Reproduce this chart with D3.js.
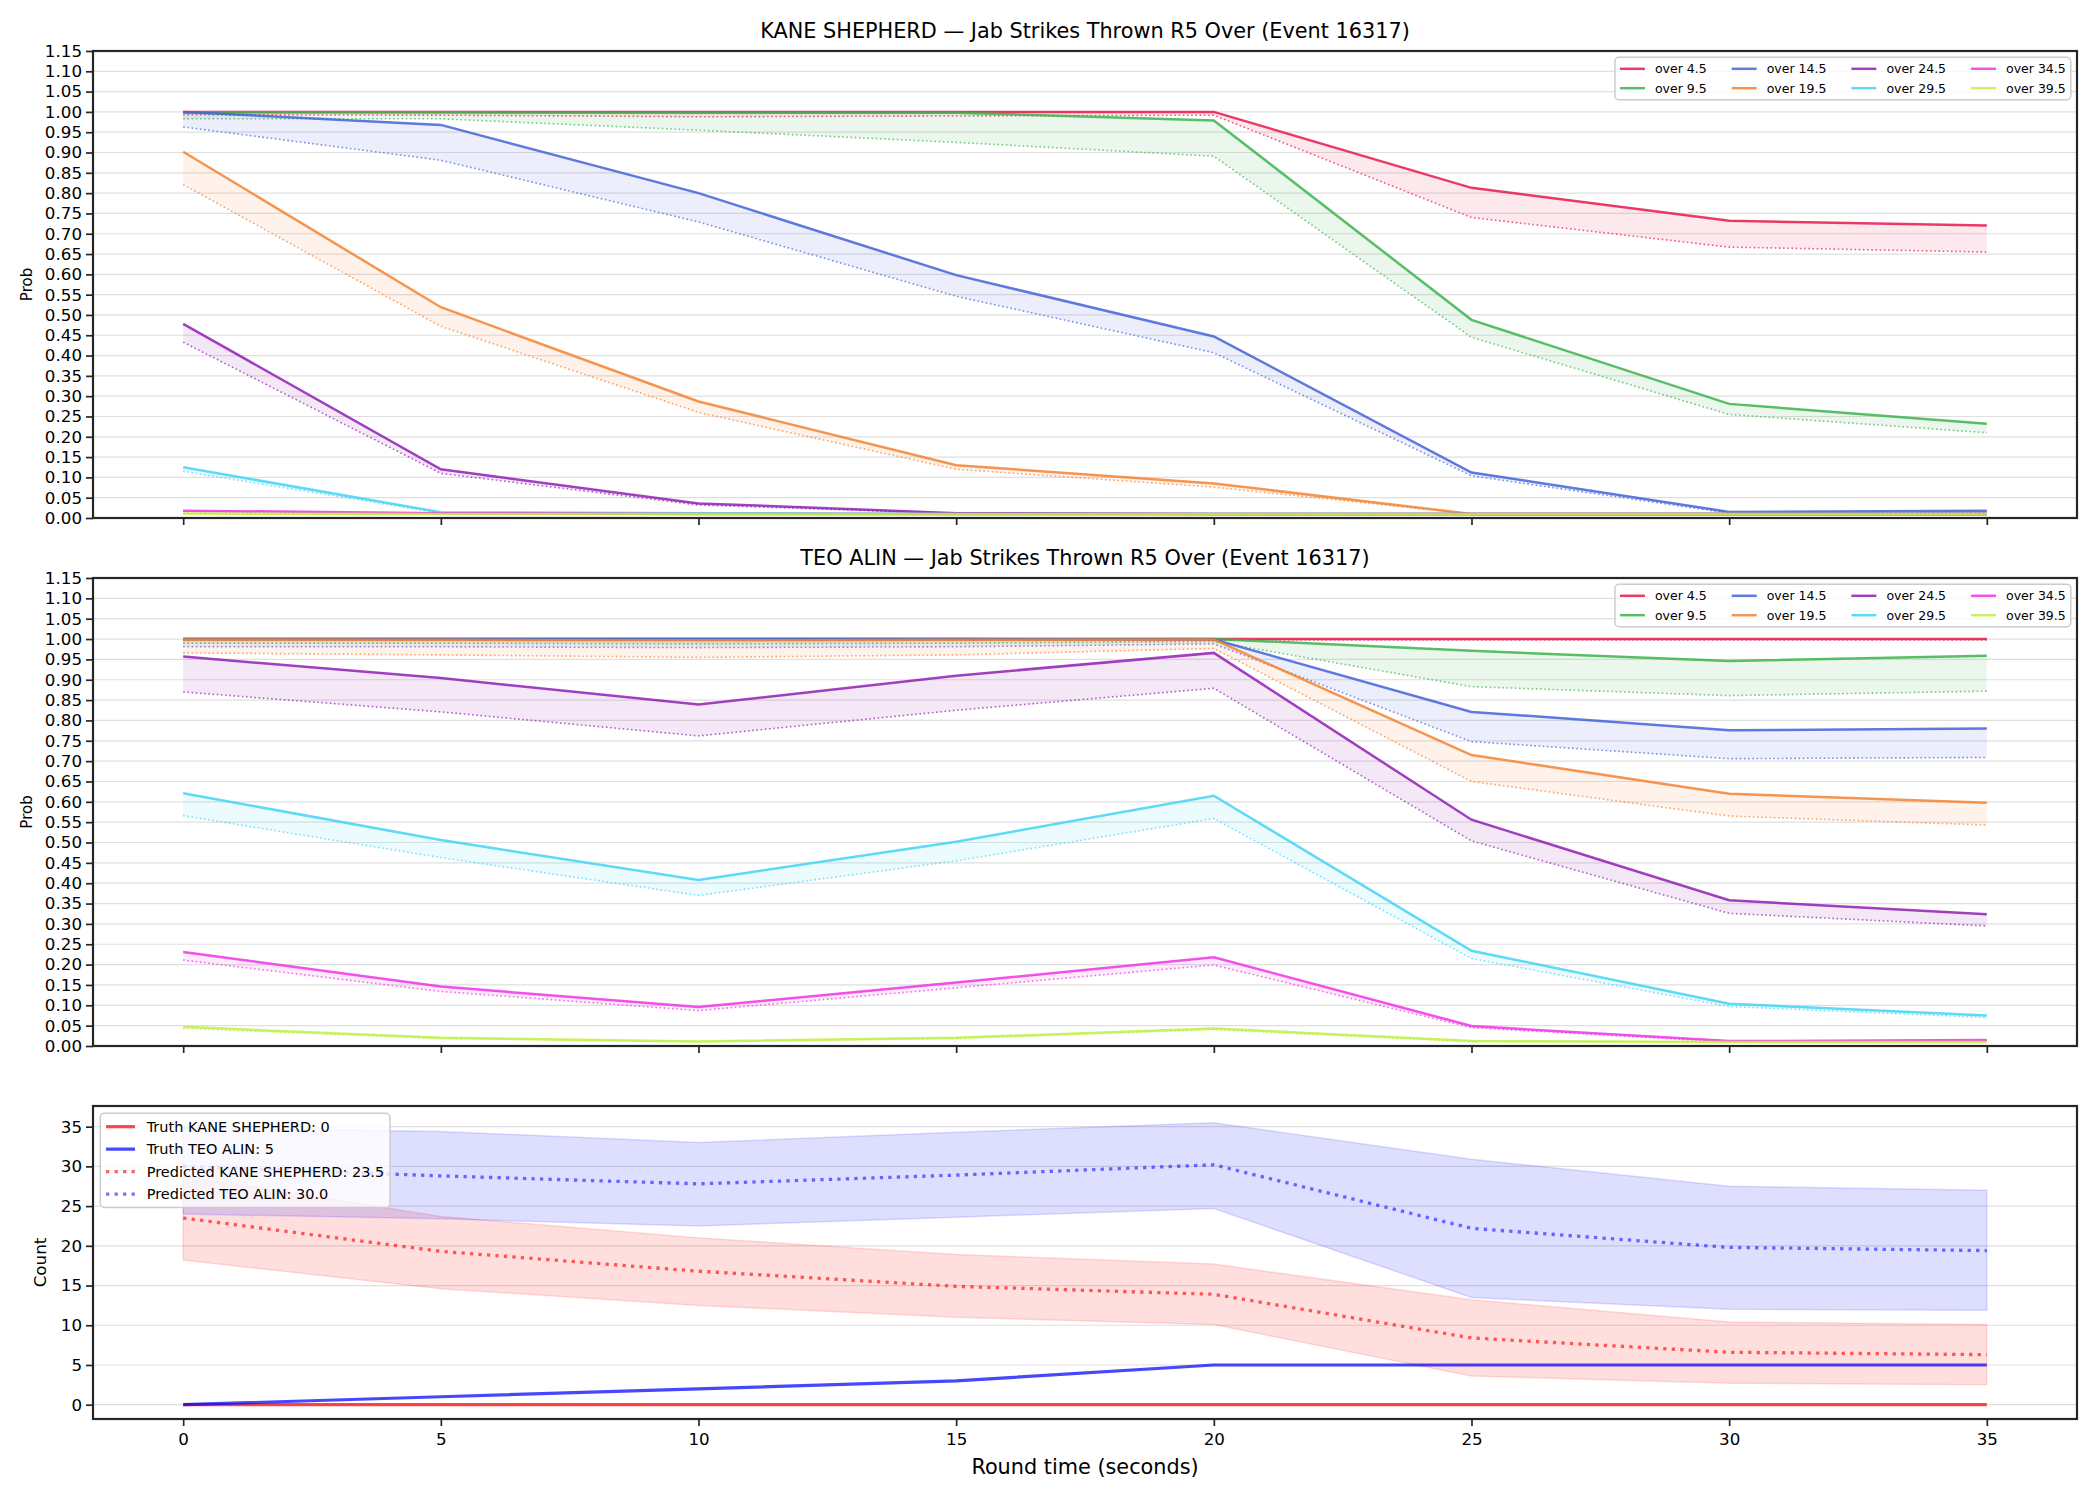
<!DOCTYPE html>
<html>
<head>
<meta charset="utf-8">
<script src="https://cdn.jsdelivr.net/npm/d3@7"></script>
<style>
  body { margin: 0; background: #fff; }
  svg { display: block; }
  text { font-family: "DejaVu Sans", sans-serif; fill: #000; }
</style>
</head>
<body>
<svg id="chart" width="2100" height="1500"></svg>
<script>
// round time in seconds
const rounds = [0, 5, 10, 15, 20, 25, 30, 35];

const lineNames = ["over 4.5", "over 9.5", "over 14.5", "over 19.5", "over 24.5", "over 29.5", "over 34.5", "over 39.5"];
const lineColors = ["#e6194b", "#3cb44b", "#4363d8", "#f58231", "#911eb4", "#42d4f4", "#f032e6", "#bfef45"];

const probTicks = d3.range(24).map(i => +(i * 0.05).toFixed(2));
const countTicks = [0, 5, 10, 15, 20, 25, 30, 35];

// KANE SHEPHERD: live prob (solid) and pre-round prob (dotted), one row per line
const kaneLive = [
  [1.0, 1.0, 1.0, 1.0, 1.0, 0.813, 0.732, 0.72],
  [0.999, 0.999, 0.998, 0.998, 0.979, 0.488, 0.281, 0.232],
  [1.0, 0.968, 0.80, 0.598, 0.447, 0.112, 0.015, 0.018],
  [0.902, 0.519, 0.287, 0.13, 0.085, 0.01, 0.01, 0.01],
  [0.478, 0.12, 0.036, 0.012, 0.01, 0.01, 0.01, 0.01],
  [0.125, 0.014, 0.012, 0.01, 0.01, 0.01, 0.01, 0.01],
  [0.018, 0.012, 0.01, 0.01, 0.01, 0.01, 0.01, 0.01],
  [0.011, 0.01, 0.01, 0.01, 0.01, 0.01, 0.01, 0.01]
];
const kanePrior = [
  [0.993, 0.992, 0.988, 0.99, 0.992, 0.74, 0.667, 0.655],
  [0.983, 0.983, 0.955, 0.925, 0.891, 0.445, 0.255, 0.21],
  [0.963, 0.881, 0.729, 0.546, 0.407, 0.104, 0.012, 0.013],
  [0.821, 0.472, 0.26, 0.12, 0.076, 0.01, 0.01, 0.01],
  [0.433, 0.11, 0.032, 0.011, 0.01, 0.01, 0.01, 0.01],
  [0.115, 0.012, 0.011, 0.01, 0.01, 0.01, 0.01, 0.01],
  [0.016, 0.011, 0.01, 0.01, 0.01, 0.01, 0.01, 0.01],
  [0.01, 0.01, 0.01, 0.01, 0.01, 0.01, 0.01, 0.01]
];

// TEO ALIN
const teoLive = [
  [1.0, 1.0, 1.0, 1.0, 1.0, 1.0, 1.0, 1.0],
  [1.0, 1.0, 1.0, 1.0, 1.0, 0.971, 0.946, 0.959],
  [1.0, 1.0, 1.0, 1.0, 0.999, 0.821, 0.776, 0.78],
  [0.999, 0.998, 0.997, 0.998, 0.999, 0.715, 0.62, 0.598],
  [0.957, 0.904, 0.839, 0.91, 0.966, 0.556, 0.358, 0.324],
  [0.621, 0.506, 0.408, 0.502, 0.615, 0.234, 0.104, 0.075],
  [0.231, 0.146, 0.096, 0.156, 0.218, 0.049, 0.012, 0.015],
  [0.047, 0.02, 0.011, 0.02, 0.043, 0.012, 0.01, 0.01]
];
const teoPrior = [
  [0.997, 0.997, 0.997, 0.997, 0.998, 0.998, 0.998, 0.998],
  [0.99, 0.99, 0.988, 0.99, 0.994, 0.883, 0.861, 0.872],
  [0.981, 0.981, 0.979, 0.981, 0.988, 0.748, 0.706, 0.709],
  [0.966, 0.961, 0.955, 0.961, 0.977, 0.65, 0.565, 0.543],
  [0.87, 0.821, 0.762, 0.825, 0.879, 0.504, 0.326, 0.295],
  [0.566, 0.463, 0.37, 0.455, 0.559, 0.215, 0.097, 0.07],
  [0.211, 0.134, 0.087, 0.143, 0.199, 0.045, 0.01, 0.012],
  [0.043, 0.018, 0.01, 0.018, 0.04, 0.01, 0.01, 0.01]
];

// counts panel
const truthKane = [0, 0, 0, 0, 0, 0, 0, 0];
const truthTeo = [0, 1, 2, 3, 5, 5, 5, 5];
const predKane = [23.5, 19.3, 16.8, 14.9, 13.9, 8.4, 6.6, 6.3];
const predKaneLo = [18.2, 14.6, 12.5, 11.0, 10.1, 3.6, 2.7, 2.5];
const predKaneHi = [28.8, 23.7, 21.0, 18.9, 17.7, 13.2, 10.4, 10.1];
const predTeo = [30.0, 28.8, 27.8, 28.9, 30.2, 22.2, 19.8, 19.4];
const predTeoLo = [24.0, 23.4, 22.5, 23.6, 24.7, 13.5, 12.0, 11.9];
const predTeoHi = [34.9, 34.4, 33.0, 34.3, 35.5, 30.9, 27.5, 27.0];

const svg = d3.select("#chart");
const axLeft = 93, axRight = 2077;
const tickFs = 16.7, titleFs = 20.8;
const spineColor = "#262626";

const x = d3.scaleLinear().domain([-1.75, 36.75]).range([axLeft, axRight]);

/*matplotlib style legend, columns filled top to bottom*/
function drawLegend(g, entries, box, opts) {
  const fs = opts.fs, ncol = opts.ncol;
  const nrows = Math.ceil(entries.length / ncol);
  const pad = 0.4 * fs, hLen = 2 * fs, hPad = 0.8 * fs, colSp = 2 * fs;
  const lg = g.append("g");
  const frame = lg.append("rect")
    .attr("fill", "#fff").attr("fill-opacity", 0.8)
    .attr("stroke", "#cccccc").attr("stroke-width", 1.5).attr("rx", 4);
  const texts = entries.map(e => lg.append("text").attr("font-size", fs).attr("dominant-baseline", "central").text(e.label));
  const widths = texts.map(t => t.node().getComputedTextLength());
  const colW = d3.range(ncol).map(c => d3.max(widths.filter((w, k) => Math.floor(k / nrows) === c)) || 0);
  const colX = [];
  let acc = pad;
  colW.forEach(w => { colX.push(acc); acc += hLen + hPad + w + colSp; });
  const width = acc - colSp + pad;
  const rowH = 1.05 * fs, rowGap = 0.5 * fs;
  const height = 2 * pad + nrows * rowH + (nrows - 1) * rowGap;
  const x0 = opts.anchor === "ne" ? box.right - 0.5 * fs - width : box.left + 0.5 * fs;
  const y0 = box.top + 0.5 * fs;
  frame.attr("x", x0).attr("y", y0).attr("width", width).attr("height", height);
  entries.forEach((e, k) => {
    const c = Math.floor(k / nrows), r = k % nrows;
    const cy = y0 + pad + r * (rowH + rowGap) + rowH / 2;
    const hx = x0 + colX[c];
    lg.append("line")
      .attr("x1", hx).attr("x2", hx + hLen).attr("y1", cy).attr("y2", cy)
      .attr("stroke", e.color).attr("stroke-width", e.width)
      .attr("stroke-opacity", e.opacity)
      .attr("stroke-dasharray", e.dash || null);
    texts[k].attr("x", hx + hLen + hPad).attr("y", cy);
  });
}

function drawFrame(box, y, yTicks, fmt, xLabels) {
  const g = svg.append("g");
  // horizontal grid
  g.append("g").selectAll("line").data(yTicks).join("line")
    .attr("x1", box.left).attr("x2", box.right)
    .attr("y1", d => y(d)).attr("y2", d => y(d))
    .attr("stroke", "#b0b0b0").attr("stroke-opacity", 0.4).attr("stroke-width", 1.2);
  return g;
}

function drawAxes(g, box, y, yTicks, fmt, xLabels) {
  g.append("rect")
    .attr("x", box.left).attr("y", box.top)
    .attr("width", box.right - box.left).attr("height", box.bottom - box.top)
    .attr("fill", "none").attr("stroke", spineColor).attr("stroke-width", 2.2);

  const yAxis = g.append("g")
    .attr("transform", `translate(${box.left},0)`)
    .call(d3.axisLeft(y).tickValues(yTicks).tickFormat(fmt).tickSize(7).tickPadding(4));
  const xAxis = g.append("g")
    .attr("transform", `translate(0,${box.bottom})`)
    .call(d3.axisBottom(x).tickValues(rounds).tickFormat(xLabels ? d3.format("d") : "").tickSize(7).tickPadding(7));
  [yAxis, xAxis].forEach(a => {
    a.select(".domain").remove();
    a.attr("font-size", tickFs).attr("font-family", "DejaVu Sans, sans-serif");
    a.selectAll(".tick line").attr("stroke", spineColor).attr("stroke-width", 1.7);
    a.selectAll(".tick text").attr("fill", "#000");
  });
}

function drawProbPanel(box, title, live, prior, clipId) {
  const y = d3.scaleLinear().domain([0, 1.15]).range([box.bottom, box.top]);
  const g = drawFrame(box, y, probTicks);

  svg.append("clipPath").attr("id", clipId).append("rect")
    .attr("x", box.left).attr("y", box.top)
    .attr("width", box.right - box.left).attr("height", box.bottom - box.top);
  const plot = g.append("g").attr("clip-path", `url(#${clipId})`);

  const line = d3.line().x((d, i) => x(rounds[i])).y(d => y(d));
  const area = d3.area().x((d, i) => x(rounds[i])).y0(d => y(d[0])).y1(d => y(d[1]));

  lineNames.forEach((name, k) => {
    const c = lineColors[k];
    plot.append("path")
      .attr("d", area(live[k].map((v, i) => [prior[k][i], v])))
      .attr("fill", c).attr("fill-opacity", 0.1);
    plot.append("path")
      .attr("d", line(live[k]))
      .attr("fill", "none").attr("stroke", c)
      .attr("stroke-width", 2.5).attr("stroke-opacity", 0.85);
    plot.append("path")
      .attr("d", line(prior[k]))
      .attr("fill", "none").attr("stroke", c)
      .attr("stroke-width", 1.6).attr("stroke-opacity", 0.7)
      .attr("stroke-dasharray", "1.6,2.6");
  });

  drawAxes(g, box, y, probTicks, d3.format(".2f"), false);

  g.append("text")
    .attr("x", (box.left + box.right) / 2).attr("y", box.top - 13)
    .attr("text-anchor", "middle").attr("font-size", titleFs)
    .text(title);

  g.append("text")
    .attr("transform", `translate(27,${(box.top + box.bottom) / 2}) rotate(-90)`)
    .attr("text-anchor", "middle").attr("dominant-baseline", "central")
    .attr("font-size", 15).text("Prob");

  drawLegend(g, lineNames.map((n, k) => ({ label: n, color: lineColors[k], width: 2.5, opacity: 0.85 })),
    box, { fs: 12.5, ncol: 4, anchor: "ne" });
}

function drawCountPanel(box) {
  const y = d3.scaleLinear().domain([-1.8, 37.6]).range([box.bottom, box.top]);
  const g = drawFrame(box, y, countTicks);

  svg.append("clipPath").attr("id", "clipCount").append("rect")
    .attr("x", box.left).attr("y", box.top)
    .attr("width", box.right - box.left).attr("height", box.bottom - box.top);
  const plot = g.append("g").attr("clip-path", "url(#clipCount)");

  const line = d3.line().x((d, i) => x(rounds[i])).y(d => y(d));
  const area = d3.area().x((d, i) => x(rounds[i])).y0(d => y(d[0])).y1(d => y(d[1]));

  const bands = [
    { lo: predKaneLo, hi: predKaneHi, color: "#ff0000" },
    { lo: predTeoLo, hi: predTeoHi, color: "#0000ff" }
  ];
  bands.forEach(b => {
    plot.append("path")
      .attr("d", area(b.lo.map((v, i) => [v, b.hi[i]])))
      .attr("fill", b.color).attr("fill-opacity", 0.13)
      .attr("stroke", b.color).attr("stroke-opacity", 0.13).attr("stroke-width", 1.5);
  });

  const series = [
    { label: "Truth KANE SHEPHERD: " + truthKane[truthKane.length - 1], values: truthKane, color: "#ff0000", width: 3.2, opacity: 0.72 },
    { label: "Truth TEO ALIN: " + truthTeo[truthTeo.length - 1], values: truthTeo, color: "#0000ff", width: 3.2, opacity: 0.72 },
    { label: "Predicted KANE SHEPHERD: " + predKane[0].toFixed(1), values: predKane, color: "#ff0000", width: 3.3, opacity: 0.62, dash: "3.3,5.2" },
    { label: "Predicted TEO ALIN: " + predTeo[0].toFixed(1), values: predTeo, color: "#0000ff", width: 3.3, opacity: 0.55, dash: "3.3,5.2" }
  ];
  series.forEach(s => {
    plot.append("path")
      .attr("d", line(s.values))
      .attr("fill", "none").attr("stroke", s.color)
      .attr("stroke-width", s.width).attr("stroke-opacity", s.opacity)
      .attr("stroke-dasharray", s.dash || null);
  });

  drawAxes(g, box, y, countTicks, d3.format("d"), true);

  g.append("text")
    .attr("transform", `translate(40,${(box.top + box.bottom) / 2}) rotate(-90)`)
    .attr("text-anchor", "middle").attr("dominant-baseline", "central")
    .attr("font-size", 16.7).text("Count");

  g.append("text")
    .attr("x", (box.left + box.right) / 2).attr("y", 1474)
    .attr("text-anchor", "middle").attr("font-size", titleFs)
    .text("Round time (seconds)");

  drawLegend(g, series, box, { fs: 14.5, ncol: 1, anchor: "nw" });
}

drawProbPanel({ left: axLeft, right: axRight, top: 51, bottom: 518 },
  "KANE SHEPHERD \u2014 Jab Strikes Thrown R5 Over (Event 16317)", kaneLive, kanePrior, "clipKane");
drawProbPanel({ left: axLeft, right: axRight, top: 578, bottom: 1046 },
  "TEO ALIN \u2014 Jab Strikes Thrown R5 Over (Event 16317)", teoLive, teoPrior, "clipTeo");
drawCountPanel({ left: axLeft, right: axRight, top: 1106, bottom: 1419 });
</script>
</body>
</html>
